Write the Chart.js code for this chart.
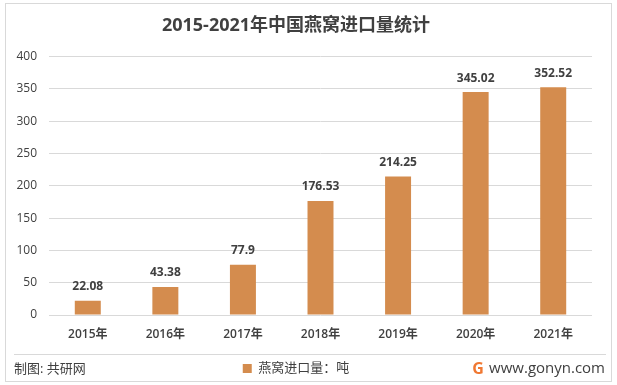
<!DOCTYPE html>
<html>
<head>
<meta charset="utf-8">
<script src="https://cdn.jsdelivr.net/npm/chart.js@4.4.0/dist/chart.umd.min.js"></script>
<style>
  html, body { margin: 0; padding: 0; background: #fff; }
  #wrap { width: 617px; height: 385px; }
</style>
</head>
<body>
<div id="wrap"><canvas id="myChart" width="617" height="385"></canvas></div>
<script>
const years = ['2015年', '2016年', '2017年', '2018年', '2019年', '2020年', '2021年'];
const imports = [22.08, 43.38, 77.9, 176.53, 214.25, 345.02, 352.52];
const seriesName = '燕窝进口量：吨';
const titleText = '2015-2021年中国燕窝进口量统计';

const FONT = "'Open Sans', 'Noto Sans CJK SC', sans-serif";
const barColor = 'rgb(212, 140, 78)';

// value labels above bars + frame, separator and footer texts
const decor = {
    id: 'decor',
    afterDatasetsDraw(chart) {
        const ctx = chart.ctx;
        const meta = chart.getDatasetMeta(0);
        ctx.save();
        ctx.font = 'bold 12px ' + FONT;
        ctx.fillStyle = '#404040';
        ctx.textAlign = 'center';
        ctx.textBaseline = 'middle';
        meta.data.forEach((bar, i) => {
            ctx.fillText(String(imports[i]), bar.x, bar.y - 14);
        });
        ctx.restore();
    },
    afterDraw(chart) {
        const ctx = chart.ctx;
        ctx.save();
        ctx.strokeStyle = '#d9d9d9';
        ctx.lineWidth = 1;
        ctx.strokeRect(5.5, 3.5, 606, 378);
        ctx.beginPath();
        ctx.moveTo(14, 354.5);
        ctx.lineTo(606, 354.5);
        ctx.stroke();

        ctx.fillStyle = '#404040';
        ctx.textBaseline = 'middle';
        ctx.font = '13px ' + FONT;
        ctx.textAlign = 'left';
        ctx.fillText('制图: 共研网', 14, 369);

        ctx.font = '15px ' + FONT;
        ctx.textAlign = 'right';
        ctx.fillText('www.gonyn.com', 605, 369);

        // logo
        ctx.fillStyle = 'rgb(240, 120, 50)';
        ctx.font = 'bold 16px ' + FONT;
        ctx.textAlign = 'center';
        ctx.fillText('G', 478, 369);
        ctx.restore();
    }
};

const data = {
    labels: years,
    datasets: [{
        label: seriesName,
        data: imports,
        backgroundColor: barColor,
        borderWidth: 0,
        categoryPercentage: 1,
        barPercentage: 0.335
    }]
};

const config = {
    type: 'bar',
    data: data,
    plugins: [decor],
    options: {
        responsive: false,
        animation: false,
        layout: { padding: { left: 0, right: 25, top: 0, bottom: 0 } },
        plugins: {
            title: {
                display: true,
                text: titleText,
                color: '#404040',
                font: { family: FONT, size: 18, weight: 'bold' },
                padding: { top: 15, bottom: 20 }
            },
            legend: {
                position: 'bottom',
                labels: {
                    color: '#404040',
                    font: { family: FONT, size: 13 },
                    boxWidth: 9,
                    boxHeight: 9,
                    padding: 6
                }
            },
            tooltip: { enabled: false }
        },
        scales: {
            x: {
                grid: { display: false, drawTicks: false },
                border: { display: false },
                ticks: { color: '#404040', font: { family: FONT, size: 12, weight: '600' }, padding: 12 },
                afterFit(s) { s.height = 41; }
            },
            y: {
                min: 0,
                max: 400,
                ticks: { stepSize: 50, color: '#404040', font: { family: FONT, size: 12 }, padding: 12 },
                grid: { color: '#d9d9d9', drawTicks: false },
                border: { display: false },
                afterFit(s) { s.width = 49; }
            }
        }
    }
};

const myChart = new Chart(document.getElementById('myChart'), config);
</script>
</body>
</html>
